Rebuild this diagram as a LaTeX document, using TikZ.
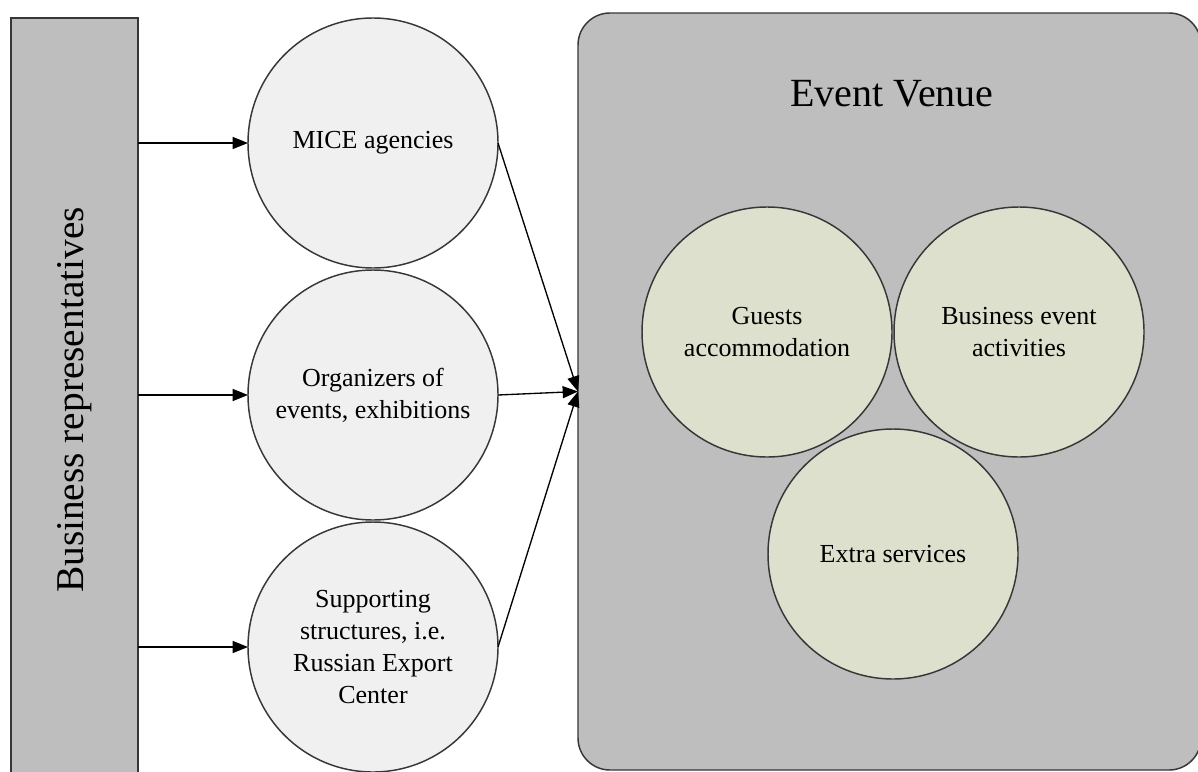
\documentclass[tikz,border=0pt]{standalone}
\usepackage{fontspec}
\setmainfont{Liberation Serif}
\usetikzlibrary{arrows.meta}
\definecolor{panelgray}{RGB}{190,190,190}
\definecolor{outfill}{RGB}{240,240,240}
\definecolor{infill}{RGB}{222,224,206}
\definecolor{edgegray}{RGB}{55,55,55}
\begin{document}
\begin{tikzpicture}[x=0.75pt,y=-0.75pt,
  every node/.style={inner sep=0pt, outer sep=0pt},
  panel/.style={draw=edgegray, line width=1.1pt, fill=panelgray},
  bubble/.style={circle, draw=edgegray, line width=1.1pt, minimum size=187.5pt,
    align=center, font=\fontsize{19.5}{24}\selectfont},
  outbubble/.style={bubble, fill=outfill},
  inbubble/.style={bubble, fill=infill},
  arr/.style={draw=black, line width=1pt, -{Triangle[length=11.5pt,width=9pt]}}
]
\clip (0,0) rectangle (1198,771);
\fill[white] (0,0) rectangle (1198,771);

% left bar with rotated title
\node[panel, minimum width=95.25pt, minimum height=579pt] (bar) at (74.5,404) {};
\node[rotate=90, font=\fontsize{29.5}{32}\selectfont] (bartitle) at (75,400) {Business representatives};

% venue panel
\node[panel, rounded corners=24pt, minimum width=467.25pt, minimum height=567.75pt] (venue) at (889.5,391.5) {};
\node[anchor=base, font=\fontsize{30}{34}\selectfont] (venuetitle) at (892,106) {Event Venue};

% intermediary circles
\node[outbubble] (mice) at (373,143) {MICE agencies};
\node[outbubble] (org) at (373,395) {Organizers of\\events, exhibitions};
\node[outbubble] (sup) at (373,647) {Supporting\\structures, i.e.\\Russian Export\\Center};

% services inside the venue
\node[inbubble] (guests) at (767,332) {Guests\\accommodation};
\node[inbubble] (activities) at (1019,332) {Business event\\activities};
\node[inbubble] (extra) at (893,554) {Extra services};

% connectors
\coordinate (hub) at (venue.west);
\draw[arr] (bar.east |- mice) -- (mice.west);
\draw[arr] (bar.east |- org) -- (org.west);
\draw[arr] (bar.east |- sup) -- (sup.west);
\draw[arr] (mice.east) -- (hub);
\draw[arr] (org.east) -- (hub);
\draw[arr] (sup.east) -- (hub);
\end{tikzpicture}
\end{document}
